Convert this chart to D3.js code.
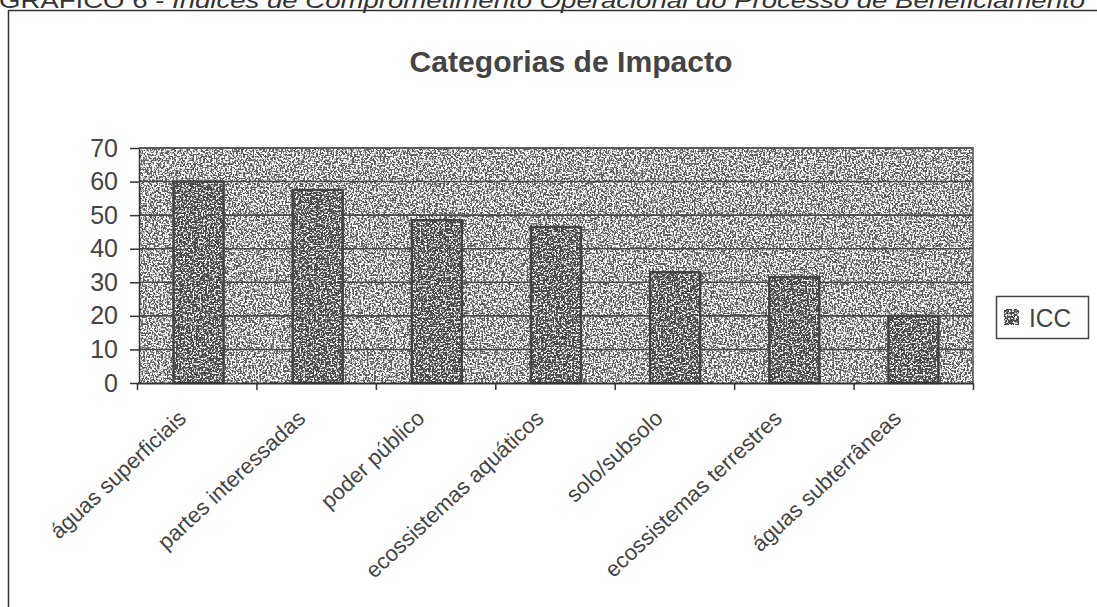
<!DOCTYPE html>
<html>
<head>
<meta charset="utf-8">
<script src="https://cdn.jsdelivr.net/npm/d3@7"></script>
<style>
  html, body { margin: 0; padding: 0; background: #fff; }
  svg { display: block; font-family: "Liberation Sans", Arial, sans-serif; }
</style>
</head>
<body>
<svg id="chart" width="1097" height="607"></svg>
<script>
// Categories of impact and their ICC scores
const categories = [
  "águas superficiais",
  "partes interessadas",
  "poder público",
  "ecossistemas aquáticos",
  "solo/subsolo",
  "ecossistemas terrestres",
  "águas subterrâneas"
];
const iccValues = [60, 57.5, 48.5, 46.5, 33, 31.5, 20];
const yTicks = [0, 10, 20, 30, 40, 50, 60, 70];
const seriesName = "ICC";
const chartTitle = "Categorias de Impacto";
const captionLead = "GRÁFICO 6 - ";
const captionRest = "Índices de Comprometimento Operacional do Processo de Beneficiamento";

const W = 1097, H = 607;
const plot = { left: 139, right: 973, top: 148, bottom: 383 };
const ink = "#444";

const svg = d3.select("#chart");
const defs = svg.append("defs");

// Speckled texture fill used by the plot area and the bars
function grain(id, freq, k, b, seed) {
  const f = defs.append("filter").attr("id", id)
    .attr("x", 0).attr("y", 0).attr("width", 1).attr("height", 1);
  f.append("feTurbulence").attr("type", "fractalNoise")
    .attr("baseFrequency", freq).attr("numOctaves", 2).attr("seed", seed).attr("result", "noise");
  f.append("feColorMatrix").attr("in", "noise").attr("type", "matrix")
    .attr("values", `0 0 0 0 1  0 0 0 0 1  0 0 0 0 1  ${k} 0 0 0 ${b}`).attr("result", "specks");
  f.append("feComposite").attr("in", "specks").attr("in2", "SourceGraphic")
    .attr("operator", "in").attr("result", "clipped");
  const m = f.append("feMerge");
  m.append("feMergeNode").attr("in", "SourceGraphic");
  m.append("feMergeNode").attr("in", "clipped");
}
grain("grainBg", 0.55, 7, -3.1, 3);
grain("grainBar", 0.55, 6, -3.0, 11);

// Caption line above the frame (runs off the top edge)
const cap = svg.append("text")
  .attr("x", -1).attr("y", 8)
  .attr("font-size", 22).attr("fill", "#333")
  .attr("textLength", 1086).attr("lengthAdjust", "spacingAndGlyphs");
cap.append("tspan").text(captionLead);
cap.append("tspan").attr("font-style", "italic").text(captionRest);

// Chart frame (left and top edges visible)
svg.append("path")
  .attr("d", `M8.5,${H} V10.5 H${W}`)
  .attr("fill", "none").attr("stroke", "#333").attr("stroke-width", 1.5);

// Title
svg.append("text")
  .attr("x", 571).attr("y", 72)
  .attr("text-anchor", "middle")
  .attr("font-size", 29).attr("font-weight", "bold").attr("fill", ink)
  .attr("textLength", 323).attr("lengthAdjust", "spacingAndGlyphs")
  .text(chartTitle);

// Scales
const x = d3.scaleBand()
  .domain(categories)
  .range([plot.left, plot.right])
  .paddingInner(0.58)
  .paddingOuter(0.29);
const y = d3.scaleLinear().domain([0, 70]).range([plot.bottom, plot.top]);
const xEdges = d3.scaleLinear().domain([0, categories.length]).range([plot.left - 2, plot.right]);

// Plot area background
svg.append("rect")
  .attr("x", plot.left).attr("y", plot.top)
  .attr("width", plot.right - plot.left).attr("height", plot.bottom - plot.top)
  .attr("fill", "#5e5e5e")
  .attr("filter", "url(#grainBg)");

// Horizontal gridlines
svg.append("g")
  .selectAll("line")
  .data(yTicks.filter(t => t > 0))
  .join("line")
  .attr("x1", plot.left).attr("x2", plot.right)
  .attr("y1", d => y(d)).attr("y2", d => y(d))
  .attr("stroke", "#4a4a4a").attr("stroke-width", 1.6);

// Bars
const barData = categories.map((c, i) => ({ c, v: iccValues[i] }));
svg.append("g")
  .selectAll("rect")
  .data(barData)
  .join("rect")
  .attr("x", d => x(d.c))
  .attr("y", d => y(d.v))
  .attr("width", x.bandwidth())
  .attr("height", d => y(0) - y(d.v))
  .attr("fill", "#4c4c4c")
  .attr("filter", "url(#grainBar)");
svg.append("g")
  .selectAll("rect")
  .data(barData)
  .join("rect")
  .attr("x", d => x(d.c))
  .attr("y", d => y(d.v))
  .attr("width", x.bandwidth())
  .attr("height", d => y(0) - y(d.v))
  .attr("fill", "none")
  .attr("stroke", "#444").attr("stroke-width", 2.4);

// Plot border top and right
svg.append("path")
  .attr("d", `M${plot.left},${plot.top} H${plot.right} V${plot.bottom}`)
  .attr("fill", "none").attr("stroke", "#555").attr("stroke-width", 1.5);

// Y axis
const yAxis = svg.append("g")
  .attr("transform", `translate(${plot.left},0)`)
  .call(d3.axisLeft(y).tickValues(yTicks).tickSize(9).tickPadding(12).tickSizeOuter(0));
yAxis.select(".domain").attr("stroke", "#333").attr("stroke-width", 1.5);
yAxis.selectAll(".tick line").attr("stroke", "#333").attr("stroke-width", 1.5);
yAxis.selectAll(".tick text")
  .attr("font-size", 25).attr("fill", ink)
  .attr("font-family", "Liberation Sans, Arial, sans-serif");

// X axis with ticks at category boundaries
const xAxis = svg.append("g")
  .attr("transform", `translate(0,${plot.bottom})`)
  .call(d3.axisBottom(xEdges).tickValues(d3.range(categories.length + 1)).tickFormat("").tickSize(7).tickSizeOuter(0));
xAxis.select(".domain").attr("stroke", "#333").attr("stroke-width", 1.8);
xAxis.selectAll(".tick line").attr("stroke", "#333").attr("stroke-width", 1.5);

// Rotated category labels
svg.append("g")
  .selectAll("text")
  .data(categories)
  .join("text")
  .attr("transform", d => `translate(${x(d) + x.bandwidth() / 2 - 11},420) rotate(-43)`)
  .attr("text-anchor", "end")
  .attr("font-size", 22).attr("fill", ink)
  .text(d => d);

// Legend
const lg = svg.append("g");
lg.append("rect")
  .attr("x", 996.5).attr("y", 296.5).attr("width", 92).attr("height", 42)
  .attr("fill", "#fff").attr("stroke", "#444").attr("stroke-width", 1.5);
lg.append("rect")
  .attr("x", 1004).attr("y", 309).attr("width", 15).attr("height", 16)
  .attr("fill", "#4a4a4a").attr("stroke", "#444").attr("stroke-width", 1.2)
  .attr("filter", "url(#grainBar)");
lg.append("text")
  .attr("x", 1029).attr("y", 327)
  .attr("font-size", 26).attr("fill", ink)
  .attr("textLength", 42).attr("lengthAdjust", "spacingAndGlyphs")
  .text(seriesName);
</script>
</body>
</html>
